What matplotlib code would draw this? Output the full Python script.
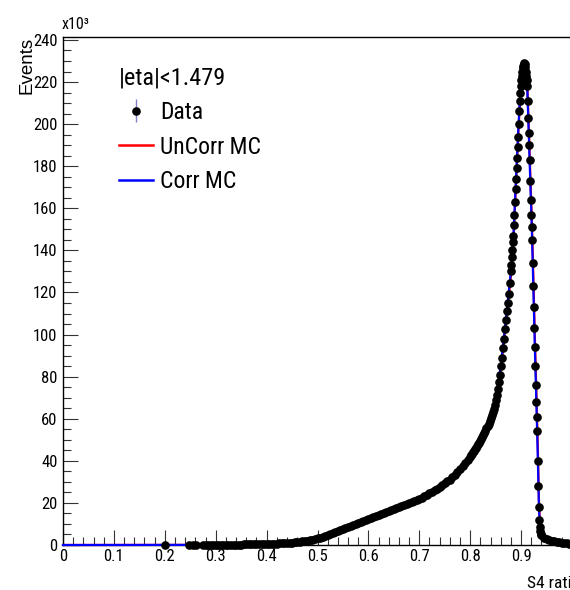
import numpy as np
import matplotlib
matplotlib.use("Agg")
import matplotlib.pyplot as plt
from matplotlib.lines import Line2D
from matplotlib.ticker import MultipleLocator

NARROW = ['Roboto Condensed', 'Liberation Sans', 'DejaVu Sans']
REGULAR = ['Liberation Sans', 'DejaVu Sans']

# ---------------- data (values in units of 10^3 events) ----------------
data_x_low = [0.200, 0.248, 0.255, 0.262]
data_y_low = [0.05, 0.05, 0.05, 0.05]

data_x_mid = np.round(np.arange(0.275, 0.8001, 0.005), 3)
data_y_mid = [0.05, 0.06, 0.07, 0.08, 0.09, 0.10, 0.11, 0.12, 0.13, 0.14,
              0.15, 0.16, 0.17, 0.19, 0.20, 0.22, 0.24, 0.26, 0.28, 0.30,
              0.32, 0.35, 0.38, 0.41, 0.44, 0.48, 0.52, 0.57, 0.62, 0.68,
              0.75, 0.82, 0.90, 0.98, 1.07, 1.17, 1.28, 1.40, 1.55, 1.72,
              1.90, 2.10, 2.35, 2.60, 2.90, 3.20, 3.55, 3.90, 4.30, 4.70,
              5.15, 5.60, 6.05, 6.50, 6.95, 7.40, 7.90, 8.40, 8.90, 9.40,
              9.90, 10.4, 10.9, 11.4, 11.85, 12.3, 12.75, 13.2, 13.65, 14.1,
              14.55, 15.0, 15.45, 15.95, 16.45, 16.9, 17.4, 17.9, 18.4, 18.9,
              19.4, 19.9, 20.4, 20.9, 21.4, 21.9, 22.5, 23.2, 23.9, 24.6,
              25.3, 26.0, 26.8, 27.6, 28.4, 29.3, 30.2, 31.1, 32.2, 33.4,
              34.7, 36.0, 37.4, 38.8, 40.4, 42.0]

data_x_rise = np.round(np.arange(0.802, 0.8801, 0.002), 3)
data_y_rise = [42.7, 43.4, 44.1, 44.8, 45.5, 46.3, 47.0, 47.8, 48.6, 49.5,
               50.4, 51.3, 52.3, 53.3, 54.3, 55.4, 56.5, 57.7, 58.9, 60.2,
               61.6, 63.1, 64.7, 66.4, 69.0, 71.5, 74.2, 77.5, 81.0, 85.0,
               89.0, 93.5, 98.0, 102.5, 107.0, 111.0, 115.0, 119.5, 124.5, 130.0]

data_x_peak = np.round(np.arange(0.881, 0.9401, 0.001), 3)
data_y_peak = [133, 137, 140, 144, 147, 152, 157, 163, 169, 174,
               179, 184, 189, 194, 200, 206, 211, 215, 218, 221,
               223, 225, 226.5, 227.5, 228.5, 229, 228.5, 227, 225, 223,
               221, 218, 211, 203, 196, 190, 183, 173, 164, 157,
               151, 145, 134, 123, 113, 103, 94, 85, 76, 68,
               61, 54, 40, 28, 18, 12, 8.5, 6.5, 5.3, 4.6]

data_x_tail = np.round(np.arange(0.945, 1.0201, 0.005), 3)
data_y_tail = [3.4, 2.9, 2.5, 2.1, 1.7, 1.4, 1.2, 1.0, 0.9, 0.8,
               0.7, 0.6, 0.5, 0.4, 0.35, 0.3]

mc_x = [0.0, 0.27, 0.30, 0.35, 0.40, 0.45, 0.50, 0.55, 0.60, 0.65, 0.70,
        0.75, 0.80, 0.82, 0.84, 0.85, 0.86, 0.87, 0.88, 0.885, 0.89, 0.895,
        0.90, 0.903, 0.906, 0.909, 0.912, 0.915, 0.918, 0.921, 0.924, 0.927,
        0.930, 0.933, 0.935, 0.937, 0.94, 0.95, 0.97, 1.0, 1.02]
mc_corr = [0, 0.05, 0.1, 0.22, 0.48, 1.17, 3.2, 7.4, 12.3, 16.9, 21.9,
           29.3, 42.0, 49.5, 60.2, 69, 85, 107, 130, 147, 174, 200,
           221, 226.5, 229, 225, 218, 196, 173, 151, 123, 94,
           68, 40, 18, 8.5, 4.6, 2.8, 1.4, 0.6, 0.3]
mc_uncorr = [0, 0.05, 0.1, 0.2, 0.45, 1.1, 3.0, 7.2, 12.0, 16.6, 21.6,
             28.8, 41.0, 48.3, 58.8, 67.5, 83, 105, 128, 145, 172, 198,
             220, 227, 230, 226.5, 220, 199, 177, 155, 128, 99,
             73, 45, 22, 10, 5, 3, 1.4, 0.6, 0.3]

x_ticks = [0.0, 0.1, 0.2, 0.3, 0.4, 0.5, 0.6, 0.7, 0.8, 0.9]
x_tick_labels = ["0", "0.1", "0.2", "0.3", "0.4", "0.5", "0.6", "0.7", "0.8", "0.9"]
y_ticks = [0, 20, 40, 60, 80, 100, 120, 140, 160, 180, 200, 220, 240]

legend_title = "|eta|<1.479"
labels = ["Data", "UnCorr MC", "Corr MC"]

# ---------------- figure ----------------
W, H = 570, 590
fig = plt.figure(figsize=(W / 100, H / 100), dpi=100)
x0_px, y0_px, ytop_px = 63, 545, 37
px_per_x = 509.0
xmax = 1.02
ax = fig.add_axes([x0_px / W, (H - y0_px) / H, xmax * px_per_x / W, (y0_px - ytop_px) / H])
ax.set_xlim(0, xmax)
ax.set_ylim(0, 241.4)

data_x = np.concatenate([data_x_low, data_x_mid, data_x_rise, data_x_peak, data_x_tail])
data_y = np.concatenate([data_y_low, data_y_mid, data_y_rise, data_y_peak, data_y_tail])

ax.plot(mc_x, mc_uncorr, color='#ff0000', lw=1.6, zorder=3, clip_on=False)
ax.plot(mc_x, mc_corr, color='#0000ff', lw=1.6, zorder=4, clip_on=False)
eb = ax.errorbar(data_x, data_y, yerr=0.0, fmt='o', color='black', ms=5.2,
                 ecolor='#8080c8', elinewidth=1.0, zorder=5, clip_on=False)
eb.lines[0].set_clip_on(False)

# spines
for s in ['left', 'bottom', 'top']:
    ax.spines[s].set_linewidth(1.0)
    ax.spines[s].set_color('black')
    ax.spines[s].set_zorder(2)
ax.spines['right'].set_visible(False)

ax.set_xticks(x_ticks)
ax.set_xticklabels(x_tick_labels, family=NARROW, fontsize=12)
ax.set_yticks(y_ticks)
ax.set_yticklabels([str(v) for v in y_ticks], family=NARROW, fontsize=12)
ax.xaxis.set_minor_locator(MultipleLocator(0.02))
ax.yaxis.set_minor_locator(MultipleLocator(5))
ax.tick_params(axis='both', which='major', direction='in', length=11, width=0.8,
               color='#333333', top=False, right=False)
ax.tick_params(axis='both', which='minor', direction='in', length=5.5, width=0.8,
               color='#333333', top=False, right=False)
ax.tick_params(axis='x', which='major', pad=3)
ax.tick_params(axis='y', which='major', pad=4)

# axis titles
fig.text(27 / W, 1 - 37 / H, "Events", rotation=90, ha='center', va='top',
         family=REGULAR, fontsize=13.5)
fig.text(527 / W, 1 - 588 / H, "S4 ratio", ha='left', va='baseline',
         family=NARROW, fontsize=12.5)
fig.text(62 / W, 1 - 29 / H, "x10³", ha='left', va='baseline',
         family=NARROW, fontsize=11.5)

# legend
h_unc = Line2D([], [], color='#ff0000', lw=1.8)
h_cor = Line2D([], [], color='#0000ff', lw=1.8)
leg = ax.legend([eb, h_unc, h_cor], labels, title=legend_title,
                loc='upper left', bbox_to_anchor=(119 / W, 1 - 66 / H),
                bbox_transform=fig.transFigure, frameon=False,
                prop={'family': NARROW, 'size': 17},
                title_fontproperties={'family': NARROW, 'size': 17.5},
                alignment='left', handlelength=1.45, handletextpad=0.3,
                labelspacing=0.5, borderpad=0.0, borderaxespad=0.0)

fig.savefig("out.png", dpi=100)
